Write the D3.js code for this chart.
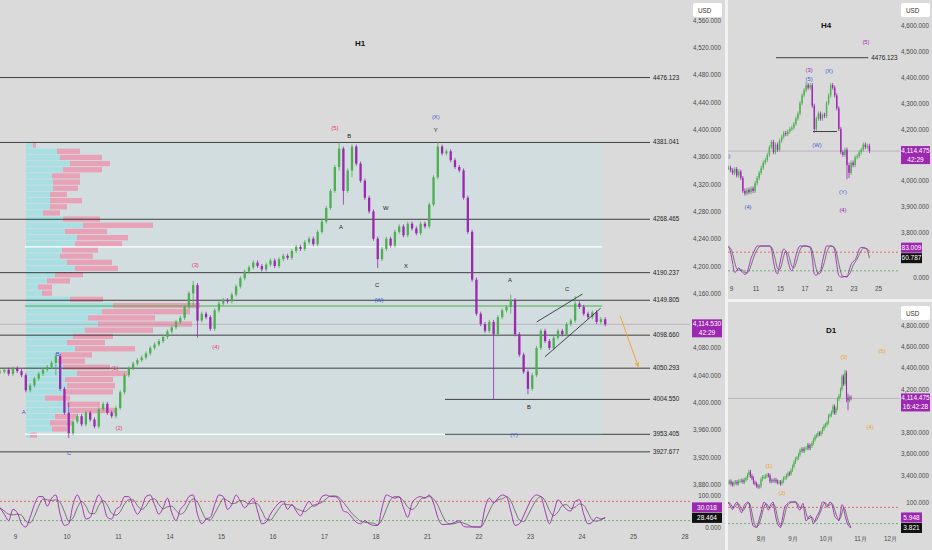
<!DOCTYPE html>
<html><head><meta charset="utf-8">
<script src="https://cdn.jsdelivr.net/npm/d3@7"></script>
<style>
body{margin:0;background:#dadada}
svg{display:block}
text{font-family:"Liberation Sans",Arial,sans-serif}
</style></head>
<body><svg id="c" width="932" height="550"></svg>
<script>
// ---------------- DATA ----------------
// H1 main chart (gold, Oct 2025)
const h1DayLabels = ["9","10","11","14","15","16","17","18","21","22","23","24","25","28"];
const h1FirstBarDay = -0.29, h1BarsPerDay = 12;
const h1Close = [
4045,4048,4042,4050,4046,4040,4018,4025,4035,4042,
4048,4052,4058,4068,4020,3985,3955,3972,3980,3968,
3985,3975,3965,3990,3998,3985,3980,3992,4015,4040,
4050,4057,4062,4066,4072,4080,4085,4090,4096,4104,
4110,4118,4124,4140,4160,4172,4120,4130,4125,4108,
4135,4145,4150,4148,4158,4170,4182,4192,4198,4205,
4200,4195,4202,4208,4200,4210,4215,4212,4222,4228,
4225,4235,4240,4232,4250,4265,4285,4310,4345,4372,
4310,4340,4375,4350,4325,4300,4280,4240,4210,4225,
4240,4230,4250,4258,4245,4262,4255,4248,4262,4258,
4290,4330,4375,4365,4368,4355,4345,4340,4300,4250,
4180,4130,4115,4105,4118,4100,4125,4135,4140,4150,
4100,4070,4045,4020,4040,4080,4105,4090,4080,4095,
4105,4100,4115,4120,4145,4140,4130,4125,4132,4118,
4122,4114.53];
const h1Extremes = {13:[4072,4040],16:[4000,3948],45:[4178,4140],46:[4172,4095],79:[4381,4340],80:[4372,4290],82:[4378,4330],88:[4240,4197],102:[4382,4330],115:[4118,4004],119:[4158,4130],123:[4045,4012],134:[4156,4118]};
const h1OscK = [
60,40,20,55,45,10,0,30,70,95, 95,65,90,100,40,5,10,70,100,70,
25,30,70,100,75,30,25,55,65,95, 95,65,40,60,95,100,70,40,60,90,
45,20,55,70,95,100,40,10,25,30, 70,100,95,55,70,100,80,60,75,90,
50,10,15,40,60,75,80,55,70,50, 35,60,80,65,70,95,100,95,95,85,
50,45,30,15,10,20,10,5,5,60, 100,95,90,95,60,30,75,90,95,90,
100,75,30,8,8,10,15,20,2,0, 0,0,0,60,90,75,90,100,95,50,
5,10,35,65,90,100,95,50,10,45, 85,70,55,50,80,85,40,10,15,30,
25,30.018];
const h1OscD = [
60,50,40,38,40,37,18,13,33,65, 87,85,83,85,77,48,18,28,60,80,
65,42,42,67,82,68,43,37,48,72, 85,85,67,55,65,85,88,70,57,63,
65,52,40,48,73,88,78,50,25,22, 42,67,88,83,73,75,83,80,72,75,
72,50,25,22,38,58,72,70,68,58, 52,48,58,68,72,77,88,97,97,92,
77,60,42,30,18,15,13,12,7,23, 55,85,95,93,82,62,55,65,87,92,
95,88,68,38,15,9,11,15,12,7, 1,0,0,20,50,75,85,88,95,82,
50,22,17,37,63,85,95,82,52,35, 47,67,70,58,62,72,68,45,22,18,
23,28.464];
const h1Levels = [4476.123,4381.041,4268.465,4190.237,4149.805,4098.660,4050.293,3927.677];
const h1LateLevels = [4004.550,3953.405];
const h1LateLevelStartDay = 8.35;
const h1RangeLines = [4228.0,3953.405];
const h1PocPrice = 4141.4;
const h1LastPrice = 4114.530;
const profileHigh = 4381.041, profileLow = 3947;
const profileUp = [7,31,34,44,37,26,27,27,24,24,24,17,37,57,39,51,49,36,34,41,49,29,21,12,16,44,87,76,62,72,59,47,41,49,34,32,37,51,39,41,39,19,41,44,29,24,26,4];
const profileDown = [3,23,42,40,39,28,27,25,17,32,17,17,37,70,42,51,47,36,33,45,43,28,23,14,10,33,87,88,67,94,68,40,38,60,32,27,47,50,48,48,48,25,33,45,23,22,15,7];
const h1Waves = [
 {t:6.21,p:4402,s:"(5)",c:"red"},{t:6.49,p:4390,s:"B",c:"black"},
 {t:8.17,p:4417,s:"(X)",c:"blue"},{t:8.17,p:4399,s:"Y",c:"black"},
 {t:6.33,p:4256,s:"A",c:"black"},{t:7.20,p:4285,s:"W",c:"black"},
 {t:7.03,p:4172,s:"C",c:"black"},{t:7.59,p:4200,s:"X",c:"black"},
 {t:3.50,p:4201,s:"(3)",c:"red"},{t:7.07,p:4149,s:"(W)",c:"blue"},
 {t:3.90,p:4080,s:"(4)",c:"red"},{t:9.61,p:4179,s:"A",c:"black"},
 {t:10.72,p:4165,s:"C",c:"black"},{t:9.98,p:3992,s:"B",c:"black"},
 {t:9.69,p:3951,s:"(Y)",c:"blue"},{t:0.83,p:4070,s:"B",c:"blue"},
 {t:0.17,p:3986,s:"A",c:"blue"},{t:1.05,p:3926,s:"C",c:"blue"},
 {t:1.94,p:4050,s:"(1)",c:"red"},{t:2.02,p:3962,s:"(2)",c:"red"}];
const h1Wedge = [[[10.13,4118],[11.02,4159]],[[10.29,4067],[11.37,4138]]];
const h1Arrow = [[11.75,4127],[12.10,4053]];
const h1PriceTicks = [3880,3920,3960,4000,4040,4080,4160,4200,4240,4280,4320,4360,4400,4440,4480,4520,4560];

// H4 panel
const h4DayLabels = {0:"9",2:"11",4:"15",6:"17",8:"21",10:"23",12:"25"};
const h4FirstBarDay = -0.2, h4BarsPerDay = 6;
const h4Close = [
4050,4040,4030,4045,4020,4035,4010,3960,3950,3965,
3955,3970,3960,3990,4010,4030,4050,4070,4080,4100,
4130,4150,4110,4140,4120,4155,4170,4185,4180,4190,
4200,4205,4220,4240,4260,4300,4330,4350,4370,4360,
4370,4290,4200,4240,4260,4240,4255,4250,4300,4330,
4370,4360,4330,4280,4200,4110,4100,4120,4060,4030,
4070,4060,4090,4095,4110,4120,4140,4130,4135,4114.475];
const h4Extremes = {8:[3970,3942],38:[4382,4350],50:[4378,4330],42:[4290,4185],58:[4120,4005],59:[4070,4010]};
const h4OscK = [
100,80,45,15,20,30,20,15,8,15, 35,60,75,90,100,100,100,100,100,100,
100,90,50,20,10,40,70,90,85,55, 30,20,40,70,90,100,100,100,100,98,
95,60,10,5,15,20,50,80,100,100, 100,98,85,40,5,0,0,2,0,20,
40,50,55,70,90,95,95,92,90,83.009];
const h4OscD = [
95,92,75,47,27,22,23,22,14,13, 19,37,57,75,88,97,100,100,100,100,
100,97,80,53,27,23,40,67,82,77, 57,35,30,43,67,87,97,100,100,99,
98,84,55,25,10,13,28,50,77,93, 100,99,94,74,43,15,2,1,1,7,
20,37,48,58,72,85,93,94,85,60.787];
const h4Level = 4476.123, h4LevelDays = [3.67,11.2];
const h4ShortLevel = 4190.237, h4ShortDays = [6.7,8.65];
const h4PriceTicks = [3800,3900,4000,4200,4300,4400,4500,4600];
const h4Waves = [
 {t:11.02,p:4537,s:"(5)",c:"purple"},{t:6.37,p:4428,s:"(3)",c:"purple"},
 {t:6.37,p:4390,s:"(5)",c:"blue"},{t:8.0,p:4421,s:"(X)",c:"blue"},
 {t:7.02,p:4138,s:"(W)",c:"blue"},{t:9.14,p:3956,s:"(Y)",c:"blue"},
 {t:9.14,p:3883,s:"(4)",c:"purple"},{t:1.39,p:3898,s:"(4)",c:"blue"},
 {t:-0.33,p:4092,s:"(5)",c:"blue"}];

// D1 panel (bar 0 = 1 Aug; array index = bar + 22)
const d1FirstBar = -22;
const d1Close = [
3330,3340,3320,3310,3330,3335,3320,3340,3345,3350,3335,3355,3370,3400,3430,3390,3370,3330,3320,3300,3290,3295,
3360,3380,3380,3390,3400,3395,3340,3350,3345,3355,3340,3330,3335,3320,3340,3370,3375,3395,3415,3410,3445,
3480,3520,3550,3560,3590,3630,3640,3625,3645,3650,3680,3650,3670,3700,3730,3760,3770,3790,3780,3800,3830,3860,
3870,3890,3950,3960,3985,4040,3980,4020,4110,4140,4200,4320,4250,4356,4125,4095,4125,4114.475];
const d1Extremes = {78:[4381,4240],79:[4360,4080],80:[4160,4004]};
const d1OscK = [
100,90,80,72,85,95,100,85,70,60, 75,90,95,100,95,60,25,10,8,5,
20,40,60,85,100,95,80,70,85,95, 100,70,40,20,10,5,30,60,85,90,
95,100,100,100,100,100,90,75,70,85, 95,60,30,35,45,50,35,20,30,45,
55,65,85,100,100,90,80,90,100,95, 75,50,40,35,30,60,90,80,50,30,
15,8,5.948];
const d1OscD = [
95,97,90,81,79,84,93,93,85,72, 68,75,87,95,97,85,60,32,14,8,
11,22,40,62,82,93,92,82,78,83, 93,88,70,43,23,12,15,32,58,78,
90,95,98,100,100,100,97,88,78,77, 83,80,62,42,37,43,43,35,28,32,
43,55,68,83,95,97,90,87,90,95, 90,73,55,42,35,42,60,77,73,53,
32,18,3.821];
const d1MonthBars = [0,21,43,66,86];
const d1MonthLabels = ["8月","9月","10月","11月","12月"];
const d1PriceTicks = [3400,3600,3800,4200,4400,4600,4800];
const d1Waves = [
 {t:55.3,p:4501,s:"(3)",c:"orange"},{t:80.7,p:4557,s:"(5)",c:"orange"},
 {t:72.7,p:3848,s:"(4)",c:"orange"},{t:5.3,p:3475,s:"(1)",c:"orange"},
 {t:14,p:3232,s:"(2)",c:"orange"}];

// ---------------- STYLE ----------------
const COL = {bg:"#dadada", up:"#4caf50", dn:"#9c27b0", axis:"#4a4a4a", level:"#2e2e2e",
  red:"#e8356d", blue:"#3d5bd6", black:"#222", purple:"#9c27b0", orange:"#f0a020",
  oscA:"#9c27b0", oscB:"#4a4a4a", cyan:"#a8dfe3", pink:"#e8a2b7", profBg:"#d2dddf"};
const waveColor = c => ({red:COL.red, blue:COL.blue, black:COL.black, purple:COL.purple, orange:COL.orange})[c];
const fmt = d3.format(",.3f");

const svg = d3.select("#c");
svg.append("rect").attr("width",932).attr("height",550).attr("fill",COL.bg);

function candles(g, closes, xOf, y, bw, ext, pad){
  const bars = closes.map((c,i)=>{
    const o = i ? closes[i-1] : c;
    let h = Math.max(o,c)+pad, l = Math.min(o,c)-pad;
    if(ext[i]){h=Math.max(h,ext[i][0]); l=Math.min(l,ext[i][1]);}
    return {i,o,c,h,l,up:c>=o};
  });
  g.selectAll("line.w").data(bars).join("line").attr("class","w")
    .attr("x1",d=>xOf(d.i)).attr("x2",d=>xOf(d.i))
    .attr("y1",d=>y(d.h)).attr("y2",d=>y(d.l))
    .attr("stroke",d=>d.up?COL.up:COL.dn).attr("stroke-width",0.8);
  g.selectAll("rect.b").data(bars).join("rect").attr("class","b")
    .attr("x",d=>xOf(d.i)-bw/2).attr("width",bw)
    .attr("y",d=>y(Math.max(d.o,d.c)))
    .attr("height",d=>Math.max(0.8,Math.abs(y(d.o)-y(d.c))))
    .attr("fill",d=>d.up?COL.up:COL.dn);
}
function oscLines(g, a, b, xOf, y){
  const line = arr => d3.line().x((d,i)=>xOf(i)).y(d=>y(d)).curve(d3.curveMonotoneX)(arr);
  g.append("path").attr("d",line(b)).attr("fill","none").attr("stroke",COL.oscB).attr("stroke-width",0.7);
  g.append("path").attr("d",line(a)).attr("fill","none").attr("stroke",COL.oscA).attr("stroke-width",0.9);
}
function oscBands(g, y, x0, x1){
  g.append("line").attr("x1",x0).attr("x2",x1).attr("y1",y(80)).attr("y2",y(80))
    .attr("stroke","#e53935").attr("stroke-width",0.7).attr("stroke-dasharray","2,2");
  g.append("line").attr("x1",x0).attr("x2",x1).attr("y1",y(20)).attr("y2",y(20))
    .attr("stroke","#43a047").attr("stroke-width",0.7).attr("stroke-dasharray","2,2");
}
function priceAxis(g, x, y, ticks, fs){
  const ax = g.append("g").attr("transform",`translate(${x},0)`)
    .call(d3.axisLeft(y).tickValues(ticks).tickSize(0).tickPadding(0).tickFormat(fmt));
  ax.select(".domain").remove();
  ax.selectAll("text").attr("fill",COL.axis).attr("font-size",fs).attr("font-family","Liberation Sans, Arial");
  return ax;
}
function waves(g, list, xOf, y, fs){
  g.selectAll("text.wv").data(list).join("text").attr("class","wv")
    .attr("x",d=>xOf(d.t)).attr("y",d=>y(d.p)).attr("text-anchor","middle")
    .attr("dominant-baseline","middle").attr("font-size",fs)
    .attr("fill",d=>waveColor(d.c)).text(d=>d.s);
}
function tag2(g, x, w, yc, l1, l2, fill){
  g.append("rect").attr("x",x).attr("y",yc-5).attr("width",w).attr("height",18).attr("fill",fill);
  g.append("text").attr("x",x+w/2).attr("y",yc+2).attr("text-anchor","middle").attr("font-size",6.5).attr("fill","#fff").text(l1);
  g.append("text").attr("x",x+w/2).attr("y",yc+10.5).attr("text-anchor","middle").attr("font-size",6.5).attr("fill","#fff").text(l2);
}
function oscTags(g, x, w, y, a, b){
  const yb = y(b), ya = Math.min(y(a), yb-10.5);
  g.append("rect").attr("x",x).attr("y",ya-5).attr("width",w).attr("height",10).attr("fill",COL.purple);
  g.append("text").attr("x",x+w/2).attr("y",ya+2.3).attr("text-anchor","middle").attr("font-size",6.5).attr("fill","#fff").text(fmt(a));
  g.append("rect").attr("x",x).attr("y",yb-5).attr("width",w).attr("height",10).attr("fill","#111");
  g.append("text").attr("x",x+w/2).attr("y",yb+2.3).attr("text-anchor","middle").attr("font-size",6.5).attr("fill","#fff").text(fmt(b));
}
function usd(g, x, y){
  g.append("rect").attr("x",x).attr("y",y).attr("width",29).attr("height",14).attr("rx",2).attr("fill","#fff");
  g.append("text").attr("x",x+5).attr("y",y+9.5).attr("font-size",6.3).attr("fill","#333").text("USD");
}
function title(g, x, y, s){
  g.append("text").attr("x",x).attr("y",y).attr("text-anchor","middle").attr("font-size",8)
    .attr("font-weight","bold").attr("fill","#111").text(s);
}

// ---------------- H1 MAIN ----------------
{
  const g = svg.append("g");
  const x = d3.scaleLinear().domain([0,13]).range([15,684.5]);
  const y = d3.scaleLinear().domain([3880,4520]).range([484.4,47.6]);
  const yo = d3.scaleLinear().domain([0,100]).range([527,495]);
  const barDay = i => h1FirstBarDay + i/h1BarsPerDay;
  const xb = i => x(barDay(i));
  const xEndProfile = x(barDay(h1Close.length-1))-3;

  // volume profile background
  g.append("rect").attr("x",25).attr("y",y(profileHigh)).attr("width",xEndProfile-25)
    .attr("height",y(profileLow)-y(profileHigh)).attr("fill",COL.profBg);
  const step = (profileHigh-profileLow)/profileUp.length;
  const xv = d3.scaleLinear().domain([0,200]).range([26,226]);
  const rows = profileUp.map((u,k)=>({u,d:profileDown[k],top:profileHigh-k*step}));
  g.selectAll("rect.pu").data(rows).join("rect").attr("class","pu")
    .attr("x",xv(0)).attr("width",d=>xv(d.u)-xv(0))
    .attr("y",d=>y(d.top)).attr("height",d=>y(d.top-step)-y(d.top)-0.9).attr("fill",COL.cyan);
  g.selectAll("rect.pd").data(rows).join("rect").attr("class","pd")
    .attr("x",d=>xv(d.u)).attr("width",d=>xv(d.u+d.d)-xv(d.u))
    .attr("y",d=>y(d.top)).attr("height",d=>y(d.top-step)-y(d.top)-0.9).attr("fill",COL.pink);

  // white range lines and POC
  h1RangeLines.forEach(p=>g.append("line").attr("x1",25).attr("x2",xEndProfile).attr("y1",y(p)).attr("y2",y(p))
    .attr("stroke","#fff").attr("stroke-width",1.2));
  g.append("line").attr("x1",25).attr("x2",xEndProfile).attr("y1",y(h1PocPrice)).attr("y2",y(h1PocPrice))
    .attr("stroke","#4caf50").attr("stroke-width",1);

  // levels
  const levelEnd = 650;
  h1Levels.forEach(p=>{
    g.append("line").attr("x1",0).attr("x2",levelEnd).attr("y1",y(p)).attr("y2",y(p)).attr("stroke",COL.level).attr("stroke-width",0.9);
    g.append("text").attr("x",levelEnd+3).attr("y",y(p)+2).attr("font-size",6.3).attr("fill","#222").text(p.toFixed(3));
  });
  h1LateLevels.forEach(p=>{
    g.append("line").attr("x1",x(h1LateLevelStartDay)).attr("x2",levelEnd).attr("y1",y(p)).attr("y2",y(p)).attr("stroke",COL.level).attr("stroke-width",0.9);
    g.append("text").attr("x",levelEnd+3).attr("y",y(p)+2).attr("font-size",6.3).attr("fill","#222").text(p.toFixed(3));
  });
  // current price line
  g.append("line").attr("x1",0).attr("x2",690).attr("y1",y(h1LastPrice)).attr("y2",y(h1LastPrice))
    .attr("stroke","#a99bb0").attr("stroke-width",0.6);

  candles(g.append("g"), h1Close, xb, y, 2.3, h1Extremes, 3);

  // wedge lines
  h1Wedge.forEach(seg=>g.append("line").attr("x1",x(seg[0][0])).attr("y1",y(seg[0][1]))
    .attr("x2",x(seg[1][0])).attr("y2",y(seg[1][1])).attr("stroke","#222").attr("stroke-width",0.8));
  // projection arrow
  const ax1=x(h1Arrow[0][0]), ay1=y(h1Arrow[0][1]), ax2=x(h1Arrow[1][0]), ay2=y(h1Arrow[1][1]);
  g.append("line").attr("x1",ax1).attr("y1",ay1).attr("x2",ax2).attr("y2",ay2).attr("stroke",COL.orange).attr("stroke-width",0.9);
  const ang = Math.atan2(ay2-ay1, ax2-ax1);
  const ah = [[ax2,ay2],[ax2-4*Math.cos(ang-0.45),ay2-4*Math.sin(ang-0.45)],[ax2,ay2],[ax2-4*Math.cos(ang+0.45),ay2-4*Math.sin(ang+0.45)]];
  g.append("path").attr("d",d3.line()(ah)).attr("fill","none").attr("stroke",COL.orange).attr("stroke-width",0.9);

  waves(g, h1Waves, x, y, 5.8);
  title(g, 360, 46, "H1");

  // oscillator
  oscBands(g, yo, 0, 690);
  oscLines(g, h1OscK, h1OscD, xb, yo);

  // axes
  priceAxis(g, 721, y, h1PriceTicks, 6.3);
  priceAxis(g, 721, yo, [0,100], 6.3);
  const xa = g.append("g").attr("transform","translate(0,535)")
    .call(d3.axisBottom(x).tickValues(d3.range(h1DayLabels.length)).tickSize(0).tickPadding(0).tickFormat(i=>h1DayLabels[i]));
  xa.select(".domain").remove();
  xa.selectAll("text").attr("fill",COL.axis).attr("font-size",6.3);

  tag2(g, 692, 30, y(h1LastPrice), fmt(h1LastPrice), "42:29", COL.purple);
  oscTags(g, 692, 30, yo, h1OscK[h1OscK.length-1], h1OscD[h1OscD.length-1]);
  usd(g, 693, 3);
}

// separators
svg.append("rect").attr("x",725).attr("y",0).attr("width",3).attr("height",550).attr("fill","#f2f2f2");
svg.append("rect").attr("x",728).attr("y",299).attr("width",204).attr("height",3).attr("fill","#f2f2f2");

// ---------------- H4 ----------------
{
  svg.append("clipPath").attr("id","h4clip").append("rect").attr("x",728).attr("y",0).attr("width",172).attr("height",299);
  const g = svg.append("g");
  const pg = g.append("g").attr("clip-path","url(#h4clip)");
  const x = d3.scaleLinear().domain([0,12]).range([731,878]);
  const y = d3.scaleLinear().domain([3800,4600]).range([232.3,25.7]);
  const yo = d3.scaleLinear().domain([0,100]).range([277,246]);
  const xb = i => x(h4FirstBarDay + i/h4BarsPerDay);
  pg.append("line").attr("x1",728).attr("x2",900).attr("y1",y(4114.475)).attr("y2",y(4114.475)).attr("stroke","#a99bb0").attr("stroke-width",0.6);
  pg.append("line").attr("x1",x(h4LevelDays[0])).attr("x2",x(h4LevelDays[1])).attr("y1",y(h4Level)).attr("y2",y(h4Level)).attr("stroke",COL.level).attr("stroke-width",0.9);
  pg.append("text").attr("x",x(h4LevelDays[1])+3).attr("y",y(h4Level)+2).attr("font-size",6.3).attr("fill","#222").text(h4Level.toFixed(3));
  pg.append("line").attr("x1",x(h4ShortDays[0])).attr("x2",x(h4ShortDays[1])).attr("y1",y(h4ShortLevel)).attr("y2",y(h4ShortLevel)).attr("stroke",COL.level).attr("stroke-width",0.9);
  candles(pg.append("g"), h4Close, xb, y, 1.4, h4Extremes, 8);
  waves(pg, h4Waves, x, y, 5.8);
  oscBands(pg, yo, 728, 900);
  oscLines(pg, h4OscK, h4OscD, xb, yo);
  title(g, 826, 28, "H4");
  priceAxis(g, 929, y, h4PriceTicks, 6.3);
  priceAxis(g, 929, yo, [0], 6.3);
  const xa = g.append("g").attr("transform","translate(0,287)")
    .call(d3.axisBottom(x).tickValues(Object.keys(h4DayLabels).map(Number)).tickSize(0).tickPadding(0).tickFormat(i=>h4DayLabels[i]));
  xa.select(".domain").remove();
  xa.selectAll("text").attr("fill",COL.axis).attr("font-size",6.3);
  tag2(g, 901, 29, y(4114.475), fmt(4114.475), "42:29", COL.purple);
  oscTags(g, 901, 21, yo, h4OscK[h4OscK.length-1], h4OscD[h4OscD.length-1]);
  usd(g, 901, 3);
}

// ---------------- D1 ----------------
{
  svg.append("clipPath").attr("id","d1clip").append("rect").attr("x",728).attr("y",302).attr("width",172).attr("height",248);
  const g = svg.append("g");
  const pg = g.append("g").attr("clip-path","url(#d1clip)");
  const x = d3.scaleLinear().domain([0,86]).range([761,890]);
  const y = d3.scaleLinear().domain([3400,4800]).range([475,325]);
  const yo = d3.scaleLinear().domain([0,100]).range([529,502]);
  const xb = i => x(d1FirstBar + i);
  pg.append("line").attr("x1",728).attr("x2",900).attr("y1",y(4114.475)).attr("y2",y(4114.475)).attr("stroke","#a99bb0").attr("stroke-width",0.6);
  candles(pg.append("g"), d1Close, xb, y, 1.1, d1Extremes, 18);
  waves(pg, d1Waves, x, y, 5.8);
  oscBands(pg, yo, 728, 900);
  oscLines(pg, d1OscK, d1OscD, xb, yo);
  title(g, 831, 333, "D1");
  priceAxis(g, 929, y, d1PriceTicks, 6.3);
  priceAxis(g, 929, yo, [100], 6.3);
  const xa = g.append("g").attr("transform","translate(0,537)")
    .call(d3.axisBottom(x).tickValues(d1MonthBars).tickSize(0).tickPadding(0).tickFormat((d,i)=>d1MonthLabels[i]));
  xa.select(".domain").remove();
  xa.selectAll("text").attr("fill",COL.axis).attr("font-size",6.3).attr("font-family","Noto Sans CJK SC, sans-serif");
  tag2(g, 901, 29, y(4114.475), fmt(4114.475), "16:42:28", COL.purple);
  oscTags(g, 901, 21, yo, d1OscK[d1OscK.length-1], d1OscD[d1OscD.length-1]);
  usd(g, 901, 306);
}
</script></body></html>
